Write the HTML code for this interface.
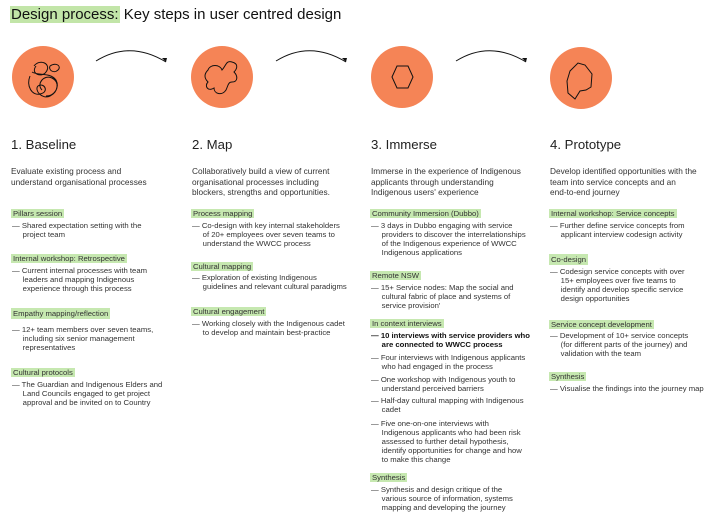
<!DOCTYPE html>
<html><head><meta charset="utf-8"><style>
body{margin:0;width:717px;height:521px;background:#fff;position:relative;overflow:hidden;font-family:"Liberation Sans",sans-serif;color:#333}
.t{position:absolute;white-space:nowrap;font-size:7.7px;line-height:9px}
.g{background:#c6e8b0;padding:0 2px;margin-left:-1px}
.h{position:absolute;font-size:13.2px;color:#222;white-space:nowrap}
.d{position:absolute;font-size:8.3px;line-height:10.5px;white-space:nowrap;color:#333}
.b{font-weight:bold;color:#111}
</style></head><body>
<div style="position:absolute;left:10px;top:6px;font-size:15px;color:#111;white-space:nowrap"><span style="background:#c2e5a8;padding:0 1px">Design process:</span> Key steps in user centred design</div>
<svg width="717" height="140" style="position:absolute;left:0;top:0">
<g fill="#f58456"><circle cx="43" cy="77" r="31"/><circle cx="222" cy="77" r="31"/><circle cx="402" cy="77" r="31"/><circle cx="581" cy="78" r="31"/></g>
<g fill="none" stroke="#111" stroke-width="1">
<path d="M96 61 Q130 40 166 62"/><path d="M276 61 Q310 40 346 62"/><path d="M456 61 Q490 40 526 62"/>
<path d="M34 66 C40 58 52 64 46 72 C42 78 30 74 36 66 M50 66 C56 62 62 66 58 70 C54 74 48 70 50 66 M30 76 C26 86 32 96 40 94 C50 92 44 82 38 86 C34 90 42 100 50 96 C58 92 60 82 52 78 C44 74 36 84 42 90 M32 72 C38 76 50 72 56 80 C60 88 54 96 46 96"/>
<path d="M208 70 C210 64 220 64 222 70 C226 66 226 60 232 62 C240 64 236 70 234 72 C238 76 238 82 232 82 C228 82 228 86 226 90 C222 96 214 94 214 88 C208 92 204 86 208 82 C204 78 204 74 208 70 Z"/>
<polygon points="392,77 397,66 408,66 413,77 408,88 397,88"/>
<path d="M570 71 L578 63 L585 65 L592 74 L591 87 L586 90 L580 91 L575 99 L568 93 L567 81 Z"/>
</g>
<g fill="#111"><path d="M166 62 l-4 -4 l5 0z"/><path d="M346 62 l-4 -4 l5 0z"/><path d="M526 62 l-4 -4 l5 0z"/></g>
</svg>
<div class="h" style="left:11px;top:137px">1. Baseline</div>
<div class="h" style="left:192px;top:137px">2. Map</div>
<div class="h" style="left:371px;top:137px">3. Immerse</div>
<div class="h" style="left:550px;top:137px">4. Prototype</div>
<div class="d" style="left:11px;top:166px">Evaluate existing process and<br>understand organisational processes</div>
<div class="d" style="left:192px;top:166px">Collaboratively build a view of current<br>organisational processes including<br>blockers, strengths and opportunities.</div>
<div class="d" style="left:371px;top:166px">Immerse in the experience of Indigenous<br>applicants through understanding<br>Indigenous users' experience</div>
<div class="d" style="left:550px;top:166px">Develop identified opportunities with the<br>team into service concepts and an<br>end-to-end journey</div>

<!-- col1 -->
<div class="t" style="left:12px;top:209px"><span class="g">Pillars session</span></div>
<div class="t" style="left:12px;top:221px">— Shared expectation setting with the<br>&nbsp;&nbsp;&nbsp;&nbsp;&nbsp;project team</div>
<div class="t" style="left:12px;top:254px"><span class="g">Internal workshop: Retrospective</span></div>
<div class="t" style="left:12px;top:266px">— Current internal processes with team<br>&nbsp;&nbsp;&nbsp;&nbsp;&nbsp;leaders and mapping Indigenous<br>&nbsp;&nbsp;&nbsp;&nbsp;&nbsp;experience through this process</div>
<div class="t" style="left:12px;top:309px"><span class="g" style="padding:1px 2px">Empathy mapping/reflection</span></div>
<div class="t" style="left:12px;top:325px">— 12+ team members over seven teams,<br>&nbsp;&nbsp;&nbsp;&nbsp;&nbsp;including six senior management<br>&nbsp;&nbsp;&nbsp;&nbsp;&nbsp;representatives</div>
<div class="t" style="left:12px;top:368px"><span class="g">Cultural protocols</span></div>
<div class="t" style="left:12px;top:380px">— The Guardian and Indigenous Elders and<br>&nbsp;&nbsp;&nbsp;&nbsp;&nbsp;Land Councils engaged to get project<br>&nbsp;&nbsp;&nbsp;&nbsp;&nbsp;approval and be invited on to Country</div>
<!-- col2 -->
<div class="t" style="left:192px;top:209px"><span class="g">Process mapping</span></div>
<div class="t" style="left:192px;top:221px">— Co-design with key internal stakeholders<br>&nbsp;&nbsp;&nbsp;&nbsp;&nbsp;of 20+ employees over seven teams to<br>&nbsp;&nbsp;&nbsp;&nbsp;&nbsp;understand the WWCC process</div>
<div class="t" style="left:192px;top:262px"><span class="g">Cultural mapping</span></div>
<div class="t" style="left:192px;top:273px">— Exploration of existing Indigenous<br>&nbsp;&nbsp;&nbsp;&nbsp;&nbsp;guidelines and relevant cultural paradigms</div>
<div class="t" style="left:192px;top:307px"><span class="g">Cultural engagement</span></div>
<div class="t" style="left:192px;top:319px">— Working closely with the Indigenous cadet<br>&nbsp;&nbsp;&nbsp;&nbsp;&nbsp;to develop and maintain best-practice</div>
<!-- col3 -->
<div class="t" style="left:371px;top:209px"><span class="g">Community Immersion (Dubbo)</span></div>
<div class="t" style="left:371px;top:221px">— 3 days in Dubbo engaging with service<br>&nbsp;&nbsp;&nbsp;&nbsp;&nbsp;providers to discover the interrelationships<br>&nbsp;&nbsp;&nbsp;&nbsp;&nbsp;of the Indigenous experience of WWCC<br>&nbsp;&nbsp;&nbsp;&nbsp;&nbsp;Indigenous applications</div>
<div class="t" style="left:371px;top:271px"><span class="g">Remote NSW</span></div>
<div class="t" style="left:371px;top:283px">— 15+ Service nodes: Map the social and<br>&nbsp;&nbsp;&nbsp;&nbsp;&nbsp;cultural fabric of place and systems of<br>&nbsp;&nbsp;&nbsp;&nbsp;&nbsp;service provision'</div>
<div class="t" style="left:371px;top:319px"><span class="g">In context interviews</span></div>
<div class="t b" style="left:371px;top:331px">— 10 interviews with service providers who<br>&nbsp;&nbsp;&nbsp;&nbsp;&nbsp;are connected to WWCC process</div>
<div class="t" style="left:371px;top:353px">— Four interviews with Indigenous applicants<br>&nbsp;&nbsp;&nbsp;&nbsp;&nbsp;who had engaged in the process</div>
<div class="t" style="left:371px;top:375px">— One workshop with Indigenous youth to<br>&nbsp;&nbsp;&nbsp;&nbsp;&nbsp;understand perceived barriers</div>
<div class="t" style="left:371px;top:396px">— Half-day cultural mapping with Indigenous<br>&nbsp;&nbsp;&nbsp;&nbsp;&nbsp;cadet</div>
<div class="t" style="left:371px;top:419px">— Five one-on-one interviews with<br>&nbsp;&nbsp;&nbsp;&nbsp;&nbsp;Indigenous applicants who had been risk<br>&nbsp;&nbsp;&nbsp;&nbsp;&nbsp;assessed to further detail hypothesis,<br>&nbsp;&nbsp;&nbsp;&nbsp;&nbsp;identify opportunities for change and how<br>&nbsp;&nbsp;&nbsp;&nbsp;&nbsp;to make this change</div>
<div class="t" style="left:371px;top:473px"><span class="g">Synthesis</span></div>
<div class="t" style="left:371px;top:485px">— Synthesis and design critique of the<br>&nbsp;&nbsp;&nbsp;&nbsp;&nbsp;various source of information, systems<br>&nbsp;&nbsp;&nbsp;&nbsp;&nbsp;mapping and developing the journey</div>
<!-- col4 -->
<div class="t" style="left:550px;top:209px"><span class="g">Internal workshop: Service concepts</span></div>
<div class="t" style="left:550px;top:221px">— Further define service concepts from<br>&nbsp;&nbsp;&nbsp;&nbsp;&nbsp;applicant interview codesign activity</div>
<div class="t" style="left:550px;top:255px"><span class="g" style="padding:1px 2px">Co-design</span></div>
<div class="t" style="left:550px;top:267px">— Codesign service concepts with over<br>&nbsp;&nbsp;&nbsp;&nbsp;&nbsp;15+ employees over five teams to<br>&nbsp;&nbsp;&nbsp;&nbsp;&nbsp;identify and develop specific service<br>&nbsp;&nbsp;&nbsp;&nbsp;&nbsp;design opportunities</div>
<div class="t" style="left:550px;top:320px"><span class="g">Service concept development</span></div>
<div class="t" style="left:550px;top:331px">— Development of 10+ service concepts<br>&nbsp;&nbsp;&nbsp;&nbsp;&nbsp;(for different parts of the journey) and<br>&nbsp;&nbsp;&nbsp;&nbsp;&nbsp;validation with the team</div>
<div class="t" style="left:550px;top:372px"><span class="g">Synthesis</span></div>
<div class="t" style="left:550px;top:384px">— Visualise the findings into the journey map</div>
</body></html>
